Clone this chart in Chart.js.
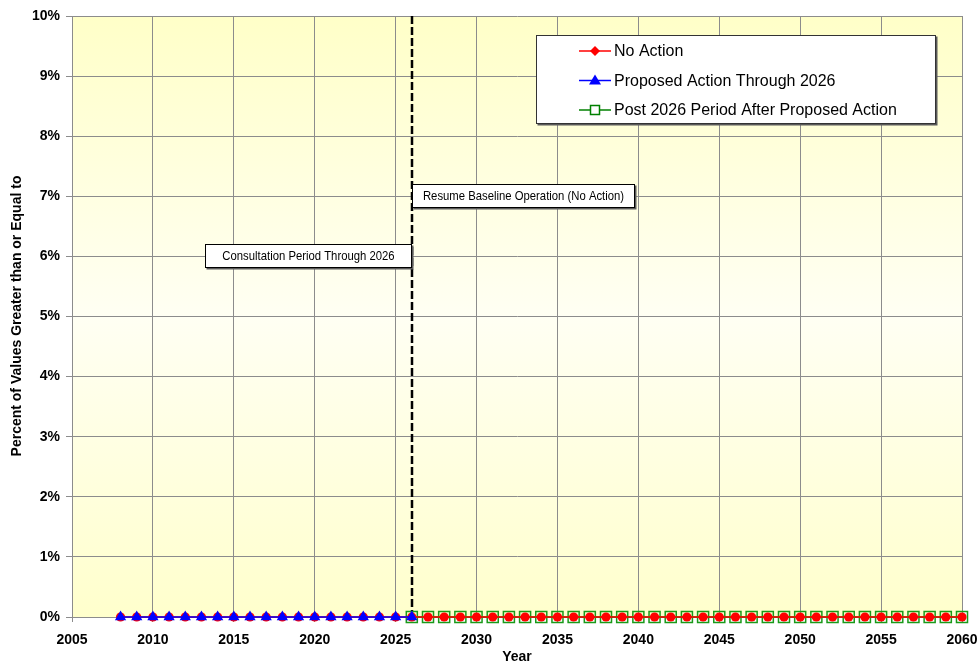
<!DOCTYPE html>
<html lang="en">
<head>
  <meta charset="UTF-8">
  <title>Percent of Values Greater than or Equal to</title>
  <style>
    html, body { margin: 0; padding: 0; background: #ffffff; }
    .chart-container { position: relative; width: 978px; height: 661px; }
  </style>
</head>
<body>
  <div class="chart-container">
    <canvas id="exceedChart"></canvas>
  </div>

  <script src="https://cdn.jsdelivr.net/npm/chart.js"></script>
  <script>
    // series data (percent of values >= threshold)
    const noActionYears = [2008, 2009, 2010, 2011, 2012, 2013, 2014, 2015, 2016, 2017, 2018, 2019, 2020, 2021,
      2022, 2023, 2024, 2025, 2026, 2027, 2028, 2029, 2030, 2031, 2032, 2033, 2034, 2035, 2036, 2037, 2038,
      2039, 2040, 2041, 2042, 2043, 2044, 2045, 2046, 2047, 2048, 2049, 2050, 2051, 2052, 2053, 2054, 2055,
      2056, 2057, 2058, 2059, 2060];
    const noActionValues = [0, 0, 0, 0, 0, 0, 0, 0, 0, 0, 0, 0, 0, 0, 0, 0, 0, 0, 0, 0, 0, 0, 0, 0, 0, 0, 0,
      0, 0, 0, 0, 0, 0, 0, 0, 0, 0, 0, 0, 0, 0, 0, 0, 0, 0, 0, 0, 0, 0, 0, 0, 0, 0];

    const proposedYears = [2008, 2009, 2010, 2011, 2012, 2013, 2014, 2015, 2016, 2017, 2018, 2019, 2020, 2021,
      2022, 2023, 2024, 2025, 2026];
    const proposedValues = [0, 0, 0, 0, 0, 0, 0, 0, 0, 0, 0, 0, 0, 0, 0, 0, 0, 0, 0];

    const postYears = [2026, 2027, 2028, 2029, 2030, 2031, 2032, 2033, 2034, 2035, 2036, 2037, 2038, 2039,
      2040, 2041, 2042, 2043, 2044, 2045, 2046, 2047, 2048, 2049, 2050, 2051, 2052, 2053, 2054, 2055, 2056,
      2057, 2058, 2059, 2060];
    const postValues = [0, 0, 0, 0, 0, 0, 0, 0, 0, 0, 0, 0, 0, 0, 0, 0, 0, 0, 0, 0, 0, 0, 0, 0, 0, 0, 0, 0,
      0, 0, 0, 0, 0, 0, 0];

    const seriesNames = ['No Action', 'Proposed Action Through 2026', 'Post 2026 Period After Proposed Action'];
    const yTicks = [0, 1, 2, 3, 4, 5, 6, 7, 8, 9, 10];
    const xTicks = [2005, 2010, 2015, 2020, 2025, 2030, 2035, 2040, 2045, 2050, 2055, 2060];

    const splitYear = 2026;
    const notes = [
      { text: 'Consultation Period Through 2026', year: 2026, level: 6, side: 'left', width: 207 },
      { text: 'Resume Baseline Operation (No Action)', year: 2026, level: 7, side: 'right', width: 223 }
    ];

    const AXIS_FONT = "'Liberation Sans', Arial, sans-serif";

    const toPoints = (xs, ys) => xs.map((x, i) => ({ x: x, y: ys[i] }));

    // yellow - pale - yellow plot background
    const plotBackground = {
      id: 'plotBackground',
      beforeDraw(chart) {
        const { ctx, chartArea: a } = chart;
        const g = ctx.createLinearGradient(0, a.top, 0, a.bottom);
        g.addColorStop(0, '#ffffc8');
        g.addColorStop(0.5, '#fffff3');
        g.addColorStop(1, '#ffffcc');
        ctx.save();
        ctx.fillStyle = g;
        ctx.fillRect(a.left, a.top, a.right - a.left, a.bottom - a.top);
        ctx.restore();
      }
    };

    const splitLine = {
      id: 'splitLine',
      beforeDatasetsDraw(chart) {
        const { ctx, chartArea: a, scales } = chart;
        const x = Math.round(scales.x.getPixelForValue(splitYear));
        ctx.save();
        ctx.strokeStyle = '#000';
        ctx.lineWidth = 2.5;
        ctx.setLineDash([8, 3]);
        ctx.beginPath();
        ctx.moveTo(x, a.top);
        ctx.lineTo(x, a.bottom);
        ctx.stroke();
        ctx.restore();
      }
    };

    const boxWithShadow = (ctx, x, y, w, h, border) => {
      ctx.fillStyle = '#5a5a5a';
      ctx.fillRect(x + 1.5, y + 1.5, w, h);
      ctx.fillStyle = '#ffffff';
      ctx.fillRect(x, y, w, h);
      ctx.strokeStyle = border;
      ctx.lineWidth = 1;
      ctx.strokeRect(x + 0.5, y + 0.5, w - 1, h - 1);
    };

    const noteBoxes = {
      id: 'noteBoxes',
      afterDatasetsDraw(chart) {
        const { ctx, scales } = chart;
        ctx.save();
        notes.forEach(n => {
          const xEdge = Math.round(scales.x.getPixelForValue(n.year));
          const yMid = scales.y.getPixelForValue(n.level);
          const h = 24;
          const left = n.side === 'left' ? xEdge - n.width : xEdge;
          const top = Math.round(yMid - h / 2);
          boxWithShadow(ctx, left, top, n.width, h, '#000');
          // narrow face is not installed, so squeeze the regular one
          ctx.save();
          ctx.translate(left + n.width / 2, top + h / 2);
          ctx.scale(0.87, 1);
          ctx.fillStyle = '#000';
          ctx.font = '13px ' + AXIS_FONT;
          ctx.textAlign = 'center';
          ctx.textBaseline = 'middle';
          ctx.fillText(n.text, 0, 0);
          ctx.restore();
        });
        ctx.restore();
      }
    };

    const drawMarker = (ctx, style, x, y) => {
      ctx.beginPath();
      if (style === 'diamond') {
        ctx.moveTo(x, y - 5); ctx.lineTo(x + 5, y); ctx.lineTo(x, y + 5); ctx.lineTo(x - 5, y); ctx.closePath();
        ctx.fillStyle = '#ff0000'; ctx.fill();
      } else if (style === 'triangle') {
        ctx.moveTo(x, y - 6); ctx.lineTo(x + 6, y + 4); ctx.lineTo(x - 6, y + 4); ctx.closePath();
        ctx.fillStyle = '#0000ff'; ctx.fill();
      } else {
        ctx.rect(x - 4.5, y - 4.5, 9, 9);
        ctx.fillStyle = '#ffffff'; ctx.fill();
        ctx.strokeStyle = '#008000'; ctx.lineWidth = 1.5; ctx.stroke();
      }
    };

    const boxLegend = {
      id: 'boxLegend',
      afterDraw(chart) {
        const { ctx } = chart;
        const left = 536, top = 35, w = 400, h = 89;
        const colors = ['#ff0000', '#0000ff', '#008000'];
        const styles = ['diamond', 'triangle', 'square'];
        ctx.save();
        boxWithShadow(ctx, left, top, w, h, '#333');
        seriesNames.forEach((name, i) => {
          const y = top + 16 + i * 29.5;
          ctx.strokeStyle = colors[i];
          ctx.lineWidth = 1.5;
          ctx.beginPath();
          ctx.moveTo(579, y);
          ctx.lineTo(611, y);
          ctx.stroke();
          drawMarker(ctx, styles[i], 595, y);
          ctx.fillStyle = '#000';
          ctx.font = '16px ' + AXIS_FONT;
          ctx.textAlign = 'left';
          ctx.textBaseline = 'middle';
          ctx.fillText(name, 614, y + 1);
        });
        ctx.restore();
      }
    };

    const axisTitles = {
      id: 'axisTitles',
      afterDraw(chart) {
        const { ctx } = chart;
        ctx.save();
        ctx.fillStyle = '#000';
        ctx.font = 'bold 14px ' + AXIS_FONT;
        ctx.textAlign = 'center';
        ctx.textBaseline = 'alphabetic';
        ctx.fillText('Year', 517, 661);
        ctx.translate(21, 316);
        ctx.rotate(-Math.PI / 2);
        ctx.fillText('Percent of Values Greater than or Equal to', 0, 0);
        ctx.restore();
      }
    };

    const config = {
      type: 'line',
      data: {
        datasets: [{
          label: seriesNames[0],
          data: toPoints(noActionYears, noActionValues),
          borderColor: '#ff0000',
          backgroundColor: '#ff0000',
          borderWidth: 1.5,
          pointStyle: 'circle',
          pointRadius: 4.6,
          pointBorderWidth: 0,
          clip: false,
          order: 1
        }, {
          label: seriesNames[1],
          data: toPoints(proposedYears, proposedValues),
          borderColor: '#0000ff',
          backgroundColor: '#0000ff',
          borderWidth: 1.5,
          pointStyle: 'triangle',
          pointRadius: 6.5,
          pointBorderWidth: 0,
          clip: false,
          order: 0
        }, {
          label: seriesNames[2],
          data: toPoints(postYears, postValues),
          borderColor: '#008000',
          backgroundColor: 'rgba(0,0,0,0)',
          borderWidth: 1.5,
          pointStyle: 'rect',
          pointRadius: 7.8,
          pointBorderColor: '#1a9a1a',
          pointBorderWidth: 1.5,
          clip: false,
          order: 2
        }]
      },
      options: {
        responsive: true,
        maintainAspectRatio: false,
        animation: false,
        layout: { padding: { top: 16, right: 16, left: 0, bottom: 0 } },
        scales: {
          x: {
            type: 'linear',
            min: 2005,
            max: 2060,
            afterBuildTicks: (s) => { s.ticks = xTicks.map(v => ({ value: v })); },
            afterFit: (s) => { s.height = 44; s.paddingLeft = 0; s.paddingRight = 0; },
            grid: { color: '#8c8c8c', lineWidth: 1, tickLength: 5 },
            border: { color: '#8c8c8c', width: 1 },
            ticks: {
              color: '#000',
              font: { family: AXIS_FONT, size: 14, weight: 'bold' },
              padding: 10,
              maxRotation: 0,
              callback: (v) => String(v)
            }
          },
          y: {
            min: 0,
            max: 10,
            afterBuildTicks: (s) => { s.ticks = yTicks.map(v => ({ value: v })); },
            afterFit: (s) => { s.width = 72; s.paddingTop = 0; s.paddingBottom = 0; },
            grid: { color: '#8c8c8c', lineWidth: 1, tickLength: 6 },
            border: { color: '#8c8c8c', width: 1 },
            ticks: {
              color: '#000',
              font: { family: AXIS_FONT, size: 14, weight: 'bold' },
              padding: 6,
              callback: (v) => v + '%'
            }
          }
        },
        plugins: {
          legend: { display: false },
          tooltip: { enabled: false }
        }
      },
      plugins: [plotBackground, splitLine, noteBoxes, boxLegend, axisTitles]
    };

    const ctx = document.getElementById('exceedChart').getContext('2d');
    const exceedChart = new Chart(ctx, config);
  </script>
</body>
</html>
